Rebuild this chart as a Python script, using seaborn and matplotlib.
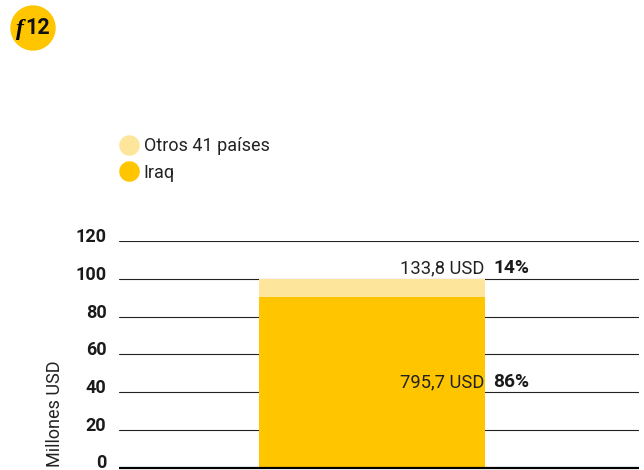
import matplotlib
matplotlib.use("Agg")
import matplotlib.pyplot as plt
from matplotlib.lines import Line2D
from matplotlib.patches import Circle
from matplotlib.transforms import ScaledTranslation
import seaborn as sns
import pandas as pd

# --- data ---
categories = ["Total"]
iraq_values = [90.5]
otros_values = [9.5]
series_labels = ["Otros 41 países", "Iraq"]
amount_labels = ["133,8 USD", "795,7 USD"]
share_labels = ["14%", "86%"]
amount_y = [105.6, 45.3]
y_ticks = [0, 20, 40, 60, 80, 100, 120]
y_title = "Millones USD"
badge_f = "f"
badge_num = "12"

C_DARK = "#FFC600"
C_LIGHT = "#FDE69B"
FONT = "Roboto"

sns.set_theme(style="white")
plt.rcParams["font.family"] = [FONT, "DejaVu Sans"]

W, H = 644, 470
fig = plt.figure(figsize=(W / 100, H / 100), dpi=100, facecolor="white")
ax = fig.add_axes([119 / W, (H - 467.5) / H, 520 / W, (467.5 - 241) / H])

df = pd.DataFrame({
    "cat": categories,
    "Iraq": iraq_values,
    "total": [a + b for a, b in zip(iraq_values, otros_values)],
})
sns.barplot(data=df, x="cat", y="total", color=C_LIGHT, saturation=1, width=0.8, ax=ax,
            zorder=3, linewidth=0)
sns.barplot(data=df, x="cat", y="Iraq", color=C_DARK, saturation=1, width=0.8, ax=ax,
            zorder=4, linewidth=0)

ax.set_xlim(-0.8956, 0.945)
ax.set_ylim(0, 120)
ax.set_yticks(y_ticks)
ax.set_yticklabels([str(v) for v in y_ticks], fontsize=13, fontweight="bold", color="#1a1a1a")
ax.set_xticks([])
ax.set_xlabel("")
ax.set_ylabel("")
ax.tick_params(axis="y", length=0, pad=9)
up = ScaledTranslation(0, 6 / 100, fig.dpi_scale_trans)
for lab in ax.get_yticklabels():
    lab.set_transform(lab.get_transform() + up)

ax.grid(axis="y", color="#222222", linewidth=0.8, zorder=1)
ax.set_axisbelow(True)
for s in ["top", "right", "left"]:
    ax.spines[s].set_visible(False)
ax.spines["bottom"].set_color("black")
ax.spines["bottom"].set_linewidth(1.6)
ax.spines["bottom"].set_zorder(5)
ax.spines["bottom"].set_capstyle("butt")

# value annotations, anchored in data coordinates
bar_right = 0.4
for amount, share, y in zip(amount_labels, share_labels, amount_y):
    ax.text(bar_right - 0.004, y, amount, ha="right", va="center", fontsize=13.2,
            color="#222222", zorder=6)
    ax.text(bar_right + 0.029, y, share, ha="left", va="center", fontsize=13.8,
            fontweight="bold", color="#1a1a1a", zorder=6)

fig.text(55 / W, (H - 467) / H, y_title, rotation=90, ha="center", va="bottom",
         fontsize=13, color="#222222")

# legend
handles = [
    Line2D([], [], linestyle="none", marker="o", markersize=14.8, markerfacecolor=c,
           markeredgecolor="none")
    for c in (C_LIGHT, C_DARK)
]
fig.legend(handles, series_labels, loc="upper left", bbox_to_anchor=(119 / W - 0.015, (H - 130) / H),
           frameon=False, fontsize=13, labelcolor="#222222", handletextpad=0.1,
           labelspacing=0.47, borderaxespad=0, handlelength=1.4)

# badge
fig_ax = fig.add_axes([0, 0, 1, 1], facecolor="none")
fig_ax.set_xlim(0, W)
fig_ax.set_ylim(H, 0)
fig_ax.axis("off")
fig_ax.set_aspect("equal")
fig_ax.add_patch(Circle((33, 28), 22.7, facecolor=C_DARK, edgecolor="none"))
fig_ax.text(20, 29.5, badge_f, fontsize=17, fontweight="bold", style="italic", ha="center",
            va="center", color="#000000", family=["Liberation Serif", "DejaVu Serif"])
fig_ax.text(38, 27.5, badge_num, fontsize=15.5, fontweight="bold", ha="center", va="center", color="#111111")

fig.savefig("out.png", dpi=100, facecolor="white")
